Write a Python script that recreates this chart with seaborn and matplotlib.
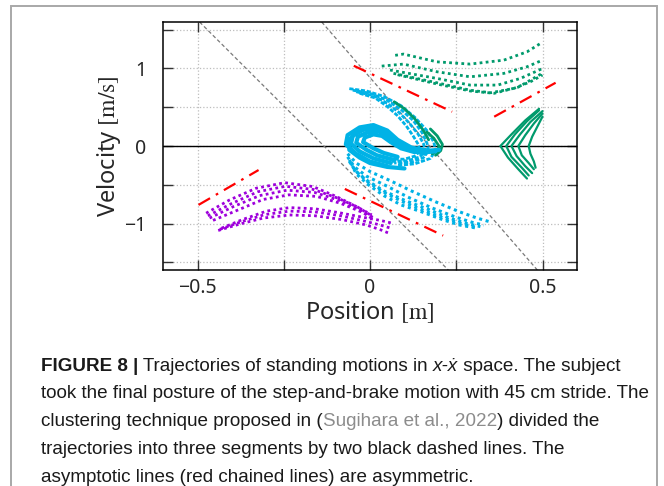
import pandas as pd
import matplotlib
matplotlib.use('Agg')
import matplotlib.pyplot as plt
from matplotlib.patches import Rectangle
import seaborn as sns

# ---- data (position [m], velocity [m/s]) ----
# purple trajectories (lower left)
purple_1_x = [-0.475, -0.407, -0.33, -0.247, -0.165, -0.097, -0.039, 0.005]
purple_1_y = [-0.867, -0.696, -0.545, -0.473, -0.524, -0.653, -0.782, -0.889]
purple_2_x = [-0.47, -0.40, -0.325, -0.245, -0.165, -0.095, -0.035, 0.005]
purple_2_y = [-0.90, -0.74, -0.59, -0.52, -0.56, -0.67, -0.79, -0.90]
purple_3_x = [-0.465, -0.395, -0.32, -0.24, -0.16, -0.09, -0.03, 0.008]
purple_3_y = [-0.93, -0.78, -0.64, -0.57, -0.60, -0.70, -0.82, -0.92]
purple_4_x = [-0.455, -0.385, -0.31, -0.235, -0.155, -0.085, -0.02, 0.01]
purple_4_y = [-0.96, -0.83, -0.69, -0.63, -0.65, -0.74, -0.86, -0.95]
purple_5_x = [-0.43, -0.37, -0.30, -0.233, -0.16, -0.09, -0.02, 0.03, 0.068]
purple_5_y = [-1.06, -0.95, -0.84, -0.795, -0.81, -0.86, -0.92, -0.96, -1.0]
purple_6_x = [-0.435, -0.375, -0.305, -0.233, -0.16, -0.085, -0.015, 0.03, 0.06]
purple_6_y = [-1.075, -0.98, -0.885, -0.84, -0.85, -0.90, -0.97, -1.02, -1.06]
purple_7_x = [-0.44, -0.38, -0.31, -0.233, -0.16, -0.08, -0.01, 0.03, 0.052]
purple_7_y = [-1.09, -1.01, -0.93, -0.89, -0.90, -0.95, -1.02, -1.08, -1.12]

# cyan trajectories: upper arm with hook, central loops, lower arm
cyan_up_1_x = [-0.06, -0.01, 0.04, 0.09, 0.13, 0.165, 0.185, 0.19, 0.175, 0.13, 0.08]
cyan_up_1_y = [0.74, 0.71, 0.64, 0.52, 0.37, 0.20, 0.05, -0.06, -0.16, -0.23, -0.25]
cyan_up_2_x = [-0.05, 0.0, 0.05, 0.09, 0.125, 0.15, 0.165, 0.17, 0.155, 0.12, 0.07]
cyan_up_2_y = [0.72, 0.68, 0.59, 0.47, 0.33, 0.18, 0.04, -0.06, -0.15, -0.21, -0.22]
cyan_up_3_x = [-0.04, 0.01, 0.05, 0.085, 0.115, 0.14, 0.155, 0.16, 0.145, 0.11, 0.06]
cyan_up_3_y = [0.70, 0.65, 0.55, 0.43, 0.29, 0.15, 0.03, -0.06, -0.14, -0.19, -0.20]
cyan_up_4_x = [-0.03, 0.015, 0.05, 0.08, 0.105, 0.125, 0.14, 0.145, 0.13, 0.10, 0.05]
cyan_up_4_y = [0.68, 0.62, 0.51, 0.39, 0.26, 0.13, 0.02, -0.06, -0.13, -0.17, -0.17]

cyan_loop_1_x = [0.05, 0.0, -0.04, -0.07, -0.065, -0.03, 0.01, 0.05, 0.08, 0.12, 0.17, 0.20]
cyan_loop_1_y = [-0.26, -0.2, -0.1, 0.02, 0.14, 0.24, 0.27, 0.20, 0.08, -0.02, -0.06, -0.05]
cyan_loop_2_x = [0.06, 0.01, -0.03, -0.055, -0.05, -0.02, 0.015, 0.045, 0.075, 0.11, 0.16, 0.19]
cyan_loop_2_y = [-0.22, -0.16, -0.07, 0.03, 0.13, 0.21, 0.23, 0.16, 0.05, -0.04, -0.08, -0.07]
cyan_loop_3_x = [0.07, 0.02, -0.01, -0.04, -0.035, -0.005, 0.025, 0.05, 0.08, 0.12, 0.16]
cyan_loop_3_y = [-0.18, -0.12, -0.05, 0.04, 0.12, 0.18, 0.19, 0.12, 0.02, -0.06, -0.10]
cyan_loop_4_x = [0.08, 0.04, 0.01, -0.02, -0.015, 0.01, 0.035, 0.06, 0.09, 0.13]
cyan_loop_4_y = [-0.14, -0.09, -0.03, 0.05, 0.11, 0.15, 0.13, 0.05, -0.03, -0.08]
cyan_loop_5_x = [0.10, 0.05, 0.0, -0.03, -0.06, -0.06, -0.04, 0.0, 0.03, 0.06, 0.10, 0.15]
cyan_loop_5_y = [-0.29, -0.27, -0.22, -0.15, -0.05, 0.08, 0.18, 0.24, 0.22, 0.12, 0.0, -0.09]

cyan_low_1_x = [-0.065, -0.04, 0.0, 0.06, 0.12, 0.19, 0.26, 0.31, 0.345]
cyan_low_1_y = [-0.10, -0.22, -0.33, -0.45, -0.58, -0.72, -0.85, -0.93, -0.975]
cyan_low_2_x = [-0.065, -0.045, -0.01, 0.05, 0.11, 0.18, 0.25, 0.30, 0.33]
cyan_low_2_y = [-0.14, -0.27, -0.39, -0.52, -0.66, -0.80, -0.92, -0.99, -1.02]
cyan_low_3_x = [-0.06, -0.045, -0.01, 0.04, 0.10, 0.17, 0.23, 0.28, 0.32]
cyan_low_3_y = [-0.18, -0.31, -0.44, -0.58, -0.70, -0.82, -0.93, -1.0, -1.04]
cyan_low_4_x = [-0.055, -0.04, -0.005, 0.04, 0.09, 0.15, 0.21, 0.26, 0.31]
cyan_low_4_y = [-0.22, -0.36, -0.50, -0.64, -0.76, -0.85, -0.95, -1.02, -1.06]
cyan_low_5_x = [-0.06, -0.04, -0.005, 0.045, 0.10, 0.16, 0.22, 0.27, 0.31]
cyan_low_5_y = [-0.20, -0.33, -0.47, -0.61, -0.73, -0.84, -0.94, -1.01, -1.05]

# green trajectories: upper right arcs
green_1_x = [0.073, 0.097, 0.194, 0.29, 0.388, 0.455, 0.494]
green_1_y = [1.17, 1.186, 1.086, 1.057, 1.108, 1.215, 1.323]
green_2_x = [0.034, 0.097, 0.194, 0.29, 0.388, 0.455, 0.50]
green_2_y = [1.031, 1.057, 0.958, 0.893, 0.937, 1.022, 1.108]
green_3_x = [0.058, 0.194, 0.29, 0.37, 0.436, 0.50]
green_3_y = [0.98, 0.872, 0.786, 0.786, 0.872, 1.0]
green_4_x = [0.068, 0.194, 0.29, 0.35, 0.417, 0.465, 0.50]
green_4_y = [0.937, 0.816, 0.72, 0.687, 0.743, 0.829, 0.915]
green_5_x = [0.08, 0.194, 0.29, 0.36, 0.43, 0.50]
green_5_y = [0.92, 0.80, 0.71, 0.68, 0.76, 0.94]
# green band along the cyan arm and small hooks
green_band_x = [0.07, 0.10, 0.13, 0.155, 0.17]
green_band_y = [0.57, 0.48, 0.35, 0.20, 0.08]
green_hook_1_x = [0.175, 0.195, 0.21, 0.205, 0.19]
green_hook_1_y = [0.22, 0.13, 0.02, -0.06, -0.12]
green_hook_2_x = [0.165, 0.185, 0.20, 0.195, 0.18]
green_hook_2_y = [0.18, 0.10, 0.0, -0.07, -0.10]
# green chevrons on the right
chev_1_x = [0.49, 0.45, 0.41, 0.378, 0.40, 0.43, 0.455]
chev_1_y = [0.48, 0.33, 0.15, 0.0, -0.15, -0.30, -0.42]
chev_2_x = [0.49, 0.455, 0.42, 0.395, 0.41, 0.44, 0.46]
chev_2_y = [0.46, 0.32, 0.15, 0.0, -0.14, -0.28, -0.38]
chev_3_x = [0.50, 0.465, 0.435, 0.41, 0.425, 0.45, 0.47]
chev_3_y = [0.45, 0.31, 0.15, 0.0, -0.13, -0.26, -0.35]
chev_4_x = [0.50, 0.475, 0.45, 0.43, 0.44, 0.46, 0.475]
chev_4_y = [0.42, 0.29, 0.14, 0.0, -0.12, -0.22, -0.30]
chev_5_x = [0.50, 0.485, 0.47, 0.46, 0.465, 0.475, 0.48]
chev_5_y = [0.38, 0.25, 0.12, 0.0, -0.10, -0.20, -0.28]

# black dashed segmentation lines (end points)
split_1_x = [-0.494, 0.227]
split_1_y = [1.6, -1.6]
split_2_x = [-0.14, 0.485]
split_2_y = [1.6, -1.6]

# red chained asymptotic lines
asym_1_x = [-0.047, 0.238]
asym_1_y = [1.035, 0.442]
asym_2_x = [0.36, 0.538]
asym_2_y = [0.378, 0.816]
asym_3_x = [-0.497, -0.323]
asym_3_y = [-0.76, -0.31]
asym_4_x = [-0.073, 0.212]
asym_4_y = [-0.554, -1.156]

x_ticks = [-0.5, -0.25, 0, 0.25, 0.5]
x_labels = ['\u22120.5', '', '0', '', '0.5']
y_ticks = [-1.5, -1, -0.5, 0, 0.5, 1, 1.5]
y_labels = ['', '\u22121', '', '0', '', '1', '']


def curves_df(curves):
    rows = []
    for i, (xs, ys) in enumerate(curves):
        rows.append(pd.DataFrame({'x': xs, 'y': ys, 'curve': i}))
    return pd.concat(rows, ignore_index=True)


def draw(ax, curves, color, lw, ls):
    sns.lineplot(data=curves_df(curves), x='x', y='y', units='curve',
                 estimator=None, sort=False, color=color, lw=lw, ls=ls,
                 legend=False, ax=ax)


sns.set_style('ticks')
plt.rcParams['font.family'] = ['Noto Sans', 'DejaVu Sans']
plt.rcParams['mathtext.fontset'] = 'stix'

fig = plt.figure(figsize=(6.64, 4.86), dpi=100)
ax = fig.add_axes([163 / 664, 1 - 270 / 486, 414 / 664, 248 / 486])

purple = '#9e00dc'
cyan = '#00b2e6'
green = '#009a6c'
dots = (0, (1, 1.2))

ax.axhline(0, color='black', lw=1.0, zorder=1)
draw(ax, [(split_1_x, split_1_y), (split_2_x, split_2_y)], '#7a7a7a', 0.9, (0, (3, 2)))

draw(ax, [(purple_1_x, purple_1_y), (purple_2_x, purple_2_y), (purple_3_x, purple_3_y),
          (purple_4_x, purple_4_y), (purple_5_x, purple_5_y), (purple_6_x, purple_6_y),
          (purple_7_x, purple_7_y)],
     purple, 2.0, dots)
draw(ax, [(green_1_x, green_1_y), (green_2_x, green_2_y), (green_3_x, green_3_y),
          (green_4_x, green_4_y), (green_5_x, green_5_y)], green, 2.0, dots)
draw(ax, [(cyan_up_1_x, cyan_up_1_y), (cyan_up_2_x, cyan_up_2_y), (cyan_up_3_x, cyan_up_3_y),
          (cyan_up_4_x, cyan_up_4_y)], cyan, 2.0, (0, (1.5, 0.6)))
draw(ax, [(green_band_x, green_band_y), (green_hook_1_x, green_hook_1_y),
          (green_hook_2_x, green_hook_2_y)], green, 2.0, '-')
draw(ax, [(cyan_loop_1_x, cyan_loop_1_y), (cyan_loop_2_x, cyan_loop_2_y),
          (cyan_loop_3_x, cyan_loop_3_y), (cyan_loop_4_x, cyan_loop_4_y),
          (cyan_loop_5_x, cyan_loop_5_y)], cyan, 3.0, '-')
draw(ax, [(cyan_low_1_x, cyan_low_1_y), (cyan_low_2_x, cyan_low_2_y), (cyan_low_3_x, cyan_low_3_y),
          (cyan_low_4_x, cyan_low_4_y), (cyan_low_5_x, cyan_low_5_y)], cyan, 2.2, dots)
draw(ax, [(chev_1_x, chev_1_y), (chev_2_x, chev_2_y), (chev_3_x, chev_3_y),
          (chev_4_x, chev_4_y), (chev_5_x, chev_5_y)], green, 1.6, '-')
draw(ax, [(asym_1_x, asym_1_y), (asym_2_x, asym_2_y), (asym_3_x, asym_3_y),
          (asym_4_x, asym_4_y)], 'red', 1.6, (0, (6, 3, 1.2, 3)))

ax.set_xlim(-0.6, 0.6)
ax.set_ylim(-1.6, 1.6)
ax.set_xticks(x_ticks)
ax.set_xticklabels(x_labels)
ax.set_yticks(y_ticks)
ax.set_yticklabels(y_labels)
ax.grid(True, ls=':', color='#bdbdbd', lw=0.9)
ax.tick_params(direction='in', top=True, right=True, length=7, width=1.0,
               labelsize=14, color='#333333')
ax.tick_params(axis='y', pad=12)
ax.tick_params(axis='x', pad=6)
for s in ax.spines.values():
    s.set_linewidth(1.1)
    s.set_color('black')
ax.set_xlabel(r'Position $[\mathrm{m}]$', fontsize=17, labelpad=1)
ax.set_ylabel(r'Velocity $[\mathrm{m/s}]$', fontsize=17, labelpad=1)

# outer frame of the figure panel
fig.add_artist(Rectangle((11 / 664, -0.2), 646 / 664, 1.2 - 6 / 486, transform=fig.transFigure,
                         fill=False, edgecolor='#a8a8a8', lw=1.4))

# caption
cap_font = ['Liberation Sans Narrow', 'Liberation Sans', 'DejaVu Sans']
W, H = 664, 486
caption = [
    [('FIGURE 8 |', {'weight': 'bold'}), (' Trajectories of standing motions in ', {}),
     ('x-\u1e8b', {'style': 'italic'}), (' space. The subject', {})],
    [('took the final posture of the step-and-brake motion with 45 cm stride. The', {})],
    [('clustering technique proposed in (', {}), ('Sugihara et al., 2022', {'color': '#8c8c8c'}),
     (') divided the', {})],
    [('trajectories into three segments by two black dashed lines. The', {})],
    [('asymptotic lines (red chained lines) are asymmetric.', {})],
]
baselines = [370.5, 398.2, 425.9, 453.8, 481.5]
renderer = fig.canvas.get_renderer()

# fit the longest caption line to the width it has in the reference
probe = fig.text(0, 0, caption[1][0][0], fontsize=15.5, family=cap_font)
probe_w = probe.get_window_extent(renderer).width
probe.remove()
cap_size = 15.5 * 608 / probe_w

for line, yb in zip(caption, baselines):
    x = 41
    for text, kw in line:
        t = fig.text(x / W, 1 - yb / H, text, fontsize=cap_size, family=cap_font,
                     va='baseline', ha='left', color=kw.get('color', '#1a1a1a'),
                     weight=kw.get('weight', 'normal'), style=kw.get('style', 'normal'))
        ext = t.get_window_extent(renderer)
        x = ext.x1

fig.savefig('out.png', dpi=100)
